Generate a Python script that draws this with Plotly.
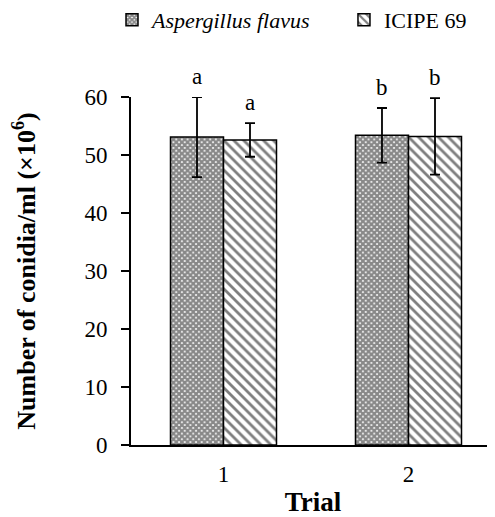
import plotly.graph_objects as go

trials = ["1", "2"]
flavus = [53.1, 53.4]
flavus_err = [6.9, 4.7]
icipe = [52.6, 53.2]
icipe_err = [2.9, 6.6]
flavus_letters = ["a", "b"]
icipe_letters = ["a", "b"]

FONT = "Liberation Serif"
W, H = 487, 509  # page body adds an 8px margin
x_pos = list(range(len(trials)))
bargap = 0.427
half = (1 - bargap) / 4  # offset of each bar centre from the category centre

fig = go.Figure()
fig.add_trace(go.Bar(
    x=x_pos, y=flavus, name="<i>Aspergillus flavus</i>" + "\u00a0" * 5,
    error_y=dict(type="data", array=flavus_err, color="black", thickness=1.8, width=5),
    marker=dict(color="white", line=dict(color="black", width=1.5),
                pattern=dict(shape="x", size=4, solidity=0.8, fgcolor="#111", bgcolor="white")),
))
fig.add_trace(go.Bar(
    x=x_pos, y=icipe, name="ICIPE 69",
    error_y=dict(type="data", array=icipe_err, color="black", thickness=1.8, width=5),
    marker=dict(color="white", line=dict(color="black", width=1.5),
                pattern=dict(shape="\\", size=7, solidity=0.4, fgcolor="black", bgcolor="white")),
))

annotations = []
for i in x_pos:
    annotations.append(dict(x=i - half, y=flavus[i] + flavus_err[i], text=flavus_letters[i],
                            showarrow=False, yshift=21, yanchor="middle",
                            font=dict(family=FONT, size=23, color="black")))
    annotations.append(dict(x=i + half, y=icipe[i] + icipe_err[i], text=icipe_letters[i],
                            showarrow=False, yshift=21, yanchor="middle",
                            font=dict(family=FONT, size=23, color="black")))

fig.update_layout(
    width=W, height=H,
    margin=dict(l=123, r=0, t=89, b=72, autoexpand=False),
    paper_bgcolor="white", plot_bgcolor="white",
    barmode="group", bargap=bargap, bargroupgap=0,
    font=dict(family=FONT, size=23, color="black"),
    annotations=annotations,
    showlegend=True,
    legend=dict(orientation="h", xref="container", yref="container",
                x=104 / W, xanchor="left", y=1 - 12 / H, yanchor="middle",
                font=dict(family=FONT, size=22), bgcolor="rgba(0,0,0,0)"),
    xaxis=dict(range=[-0.5, 1.4676], tickvals=x_pos, ticktext=trials, showline=True,
               linecolor="black", linewidth=2, ticks="", showgrid=False, zeroline=False,
               automargin=False, ticklabelstandoff=7,
               title=dict(text="<b>Trial</b>", font=dict(family=FONT, size=27), standoff=10)),
    yaxis=dict(range=[0, 60], tickvals=[0, 10, 20, 30, 40, 50, 60], showline=True,
               linecolor="black", linewidth=2, ticks="outside", ticklen=8, tickwidth=2,
               tickcolor="black", showgrid=False, zeroline=False, ticklabelstandoff=9,
               automargin=False,
               title=dict(text="<b>Number of conidia/ml (×10<sup>6</sup>)</b>",
                          font=dict(family=FONT, size=26), standoff=44)),
)

fig.write_html("out.html")
